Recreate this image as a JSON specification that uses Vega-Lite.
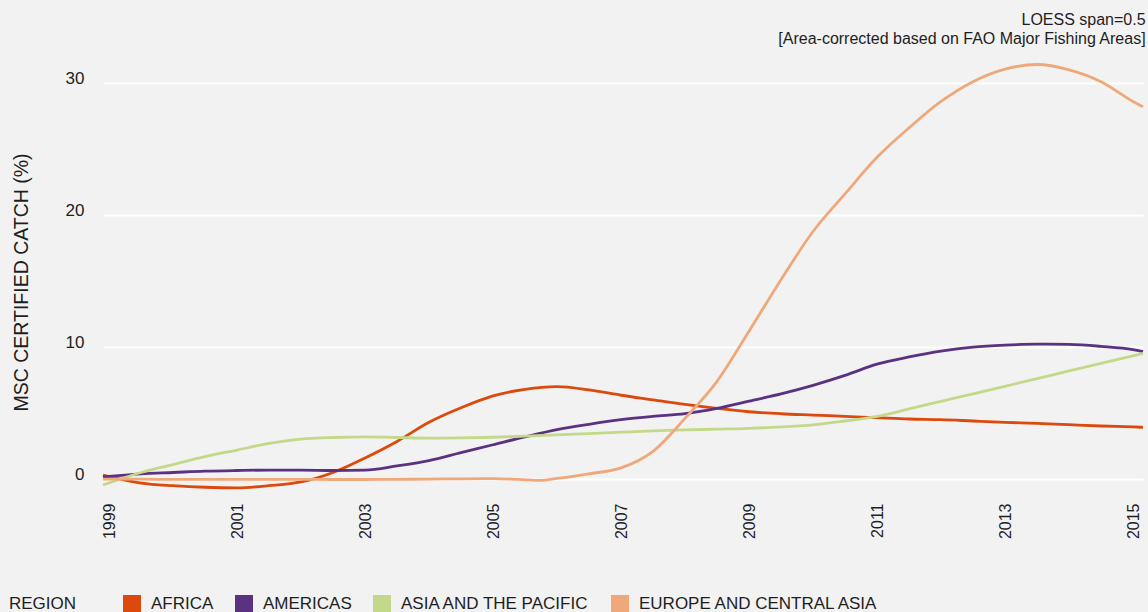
{
  "$schema": "https://vega.github.io/schema/vega-lite/v6.json",
  "width": 1040,
  "height": 437,
  "autosize": "none",
  "padding": {"left": 103, "top": 50, "right": 5, "bottom": 125},
  "background": "#f2f2f2",
  "title": {
    "text": ["LOESS span=0.5", "[Area-corrected based on FAO Major Fishing Areas]"],
    "anchor": "end",
    "fontSize": 16,
    "fontWeight": "normal",
    "font": "Liberation Sans",
    "color": "#1e1e1e",
    "lineHeight": 19,
    "offset": 3,
    "dx": -3
  },
  "config": {
    "view": {"stroke": null, "fill": "#f2f2f2"},
    "font": "Liberation Sans",
    "axis": {"labelColor": "#1e1e1e", "titleColor": "#1e1e1e", "labelFont": "Liberation Sans", "titleFont": "Liberation Sans"},
    "legend": {"labelColor": "#1e1e1e", "titleColor": "#1e1e1e"}
  },
  "data": {
    "values": [
      {"year": 1998.906, "region": "AFRICA", "value": 0.3},
      {"year": 1999.5, "region": "AFRICA", "value": -0.3},
      {"year": 2000.0, "region": "AFRICA", "value": -0.5},
      {"year": 2000.5, "region": "AFRICA", "value": -0.62},
      {"year": 2001.0, "region": "AFRICA", "value": -0.66},
      {"year": 2001.5, "region": "AFRICA", "value": -0.5},
      {"year": 2002.0, "region": "AFRICA", "value": -0.22},
      {"year": 2002.5, "region": "AFRICA", "value": 0.5},
      {"year": 2003.0, "region": "AFRICA", "value": 1.6},
      {"year": 2003.5, "region": "AFRICA", "value": 2.85},
      {"year": 2004.0, "region": "AFRICA", "value": 4.3},
      {"year": 2004.5, "region": "AFRICA", "value": 5.4},
      {"year": 2005.0, "region": "AFRICA", "value": 6.3},
      {"year": 2005.5, "region": "AFRICA", "value": 6.8},
      {"year": 2006.0, "region": "AFRICA", "value": 7.0},
      {"year": 2006.5, "region": "AFRICA", "value": 6.75},
      {"year": 2007.0, "region": "AFRICA", "value": 6.35},
      {"year": 2007.5, "region": "AFRICA", "value": 6.0},
      {"year": 2008.0, "region": "AFRICA", "value": 5.65},
      {"year": 2008.5, "region": "AFRICA", "value": 5.35},
      {"year": 2009.0, "region": "AFRICA", "value": 5.1},
      {"year": 2009.5, "region": "AFRICA", "value": 4.95},
      {"year": 2010.0, "region": "AFRICA", "value": 4.85},
      {"year": 2010.5, "region": "AFRICA", "value": 4.75},
      {"year": 2011.0, "region": "AFRICA", "value": 4.65},
      {"year": 2011.5, "region": "AFRICA", "value": 4.55},
      {"year": 2012.0, "region": "AFRICA", "value": 4.5},
      {"year": 2012.5, "region": "AFRICA", "value": 4.4},
      {"year": 2013.0, "region": "AFRICA", "value": 4.3},
      {"year": 2013.5, "region": "AFRICA", "value": 4.22},
      {"year": 2014.0, "region": "AFRICA", "value": 4.12},
      {"year": 2014.5, "region": "AFRICA", "value": 4.02},
      {"year": 2015.0, "region": "AFRICA", "value": 3.95},
      {"year": 2015.156, "region": "AFRICA", "value": 3.92},

      {"year": 1998.906, "region": "AMERICAS", "value": 0.17},
      {"year": 1999.5, "region": "AMERICAS", "value": 0.4},
      {"year": 2000.0, "region": "AMERICAS", "value": 0.5},
      {"year": 2000.5, "region": "AMERICAS", "value": 0.6},
      {"year": 2001.0, "region": "AMERICAS", "value": 0.65},
      {"year": 2001.5, "region": "AMERICAS", "value": 0.68},
      {"year": 2002.0, "region": "AMERICAS", "value": 0.68},
      {"year": 2002.5, "region": "AMERICAS", "value": 0.65},
      {"year": 2003.0, "region": "AMERICAS", "value": 0.68},
      {"year": 2003.5, "region": "AMERICAS", "value": 1.0},
      {"year": 2004.0, "region": "AMERICAS", "value": 1.4},
      {"year": 2004.5, "region": "AMERICAS", "value": 2.0},
      {"year": 2005.0, "region": "AMERICAS", "value": 2.6},
      {"year": 2005.5, "region": "AMERICAS", "value": 3.2},
      {"year": 2006.0, "region": "AMERICAS", "value": 3.75},
      {"year": 2006.5, "region": "AMERICAS", "value": 4.15},
      {"year": 2007.0, "region": "AMERICAS", "value": 4.5},
      {"year": 2007.5, "region": "AMERICAS", "value": 4.75},
      {"year": 2008.0, "region": "AMERICAS", "value": 4.95},
      {"year": 2008.5, "region": "AMERICAS", "value": 5.35},
      {"year": 2009.0, "region": "AMERICAS", "value": 5.9},
      {"year": 2009.5, "region": "AMERICAS", "value": 6.45},
      {"year": 2010.0, "region": "AMERICAS", "value": 7.1},
      {"year": 2010.5, "region": "AMERICAS", "value": 7.85},
      {"year": 2011.0, "region": "AMERICAS", "value": 8.7},
      {"year": 2011.5, "region": "AMERICAS", "value": 9.25},
      {"year": 2012.0, "region": "AMERICAS", "value": 9.7},
      {"year": 2012.5, "region": "AMERICAS", "value": 10.0},
      {"year": 2013.0, "region": "AMERICAS", "value": 10.15},
      {"year": 2013.5, "region": "AMERICAS", "value": 10.22},
      {"year": 2014.0, "region": "AMERICAS", "value": 10.2},
      {"year": 2014.5, "region": "AMERICAS", "value": 10.05},
      {"year": 2015.0, "region": "AMERICAS", "value": 9.8},
      {"year": 2015.156, "region": "AMERICAS", "value": 9.65},

      {"year": 1998.906, "region": "ASIA AND THE PACIFIC", "value": -0.45},
      {"year": 1999.5, "region": "ASIA AND THE PACIFIC", "value": 0.5},
      {"year": 2000.0, "region": "ASIA AND THE PACIFIC", "value": 1.1},
      {"year": 2000.5, "region": "ASIA AND THE PACIFIC", "value": 1.7},
      {"year": 2001.0, "region": "ASIA AND THE PACIFIC", "value": 2.2},
      {"year": 2001.5, "region": "ASIA AND THE PACIFIC", "value": 2.7},
      {"year": 2002.0, "region": "ASIA AND THE PACIFIC", "value": 3.03},
      {"year": 2002.5, "region": "ASIA AND THE PACIFIC", "value": 3.15},
      {"year": 2003.0, "region": "ASIA AND THE PACIFIC", "value": 3.2},
      {"year": 2003.5, "region": "ASIA AND THE PACIFIC", "value": 3.15},
      {"year": 2004.0, "region": "ASIA AND THE PACIFIC", "value": 3.1},
      {"year": 2004.5, "region": "ASIA AND THE PACIFIC", "value": 3.12},
      {"year": 2005.0, "region": "ASIA AND THE PACIFIC", "value": 3.17},
      {"year": 2005.5, "region": "ASIA AND THE PACIFIC", "value": 3.25},
      {"year": 2006.0, "region": "ASIA AND THE PACIFIC", "value": 3.35},
      {"year": 2006.5, "region": "ASIA AND THE PACIFIC", "value": 3.45},
      {"year": 2007.0, "region": "ASIA AND THE PACIFIC", "value": 3.55},
      {"year": 2007.5, "region": "ASIA AND THE PACIFIC", "value": 3.65},
      {"year": 2008.0, "region": "ASIA AND THE PACIFIC", "value": 3.72},
      {"year": 2008.5, "region": "ASIA AND THE PACIFIC", "value": 3.78},
      {"year": 2009.0, "region": "ASIA AND THE PACIFIC", "value": 3.84},
      {"year": 2009.5, "region": "ASIA AND THE PACIFIC", "value": 3.95},
      {"year": 2010.0, "region": "ASIA AND THE PACIFIC", "value": 4.1},
      {"year": 2010.5, "region": "ASIA AND THE PACIFIC", "value": 4.4},
      {"year": 2011.0, "region": "ASIA AND THE PACIFIC", "value": 4.75},
      {"year": 2011.5, "region": "ASIA AND THE PACIFIC", "value": 5.31},
      {"year": 2012.0, "region": "ASIA AND THE PACIFIC", "value": 5.89},
      {"year": 2012.5, "region": "ASIA AND THE PACIFIC", "value": 6.46},
      {"year": 2013.0, "region": "ASIA AND THE PACIFIC", "value": 7.03},
      {"year": 2013.5, "region": "ASIA AND THE PACIFIC", "value": 7.61},
      {"year": 2014.0, "region": "ASIA AND THE PACIFIC", "value": 8.19},
      {"year": 2014.5, "region": "ASIA AND THE PACIFIC", "value": 8.77},
      {"year": 2015.0, "region": "ASIA AND THE PACIFIC", "value": 9.34},
      {"year": 2015.156, "region": "ASIA AND THE PACIFIC", "value": 9.52},

      {"year": 1998.906, "region": "EUROPE AND CENTRAL ASIA", "value": 0.0},
      {"year": 1999.5, "region": "EUROPE AND CENTRAL ASIA", "value": -0.01},
      {"year": 2000.0, "region": "EUROPE AND CENTRAL ASIA", "value": -0.02},
      {"year": 2000.5, "region": "EUROPE AND CENTRAL ASIA", "value": -0.02},
      {"year": 2001.0, "region": "EUROPE AND CENTRAL ASIA", "value": -0.02},
      {"year": 2001.5, "region": "EUROPE AND CENTRAL ASIA", "value": -0.02},
      {"year": 2002.0, "region": "EUROPE AND CENTRAL ASIA", "value": -0.02},
      {"year": 2002.5, "region": "EUROPE AND CENTRAL ASIA", "value": -0.03},
      {"year": 2003.0, "region": "EUROPE AND CENTRAL ASIA", "value": -0.03},
      {"year": 2003.5, "region": "EUROPE AND CENTRAL ASIA", "value": -0.02},
      {"year": 2004.0, "region": "EUROPE AND CENTRAL ASIA", "value": 0.0},
      {"year": 2004.5, "region": "EUROPE AND CENTRAL ASIA", "value": 0.02},
      {"year": 2005.0, "region": "EUROPE AND CENTRAL ASIA", "value": 0.04},
      {"year": 2005.4, "region": "EUROPE AND CENTRAL ASIA", "value": -0.03},
      {"year": 2005.75, "region": "EUROPE AND CENTRAL ASIA", "value": -0.1},
      {"year": 2006.0, "region": "EUROPE AND CENTRAL ASIA", "value": 0.05},
      {"year": 2006.5, "region": "EUROPE AND CENTRAL ASIA", "value": 0.4},
      {"year": 2007.0, "region": "EUROPE AND CENTRAL ASIA", "value": 0.85},
      {"year": 2007.5, "region": "EUROPE AND CENTRAL ASIA", "value": 2.1},
      {"year": 2008.0, "region": "EUROPE AND CENTRAL ASIA", "value": 4.6},
      {"year": 2008.5, "region": "EUROPE AND CENTRAL ASIA", "value": 7.4},
      {"year": 2009.0, "region": "EUROPE AND CENTRAL ASIA", "value": 11.2},
      {"year": 2009.5, "region": "EUROPE AND CENTRAL ASIA", "value": 15.1},
      {"year": 2010.0, "region": "EUROPE AND CENTRAL ASIA", "value": 18.75},
      {"year": 2010.5, "region": "EUROPE AND CENTRAL ASIA", "value": 21.6},
      {"year": 2011.0, "region": "EUROPE AND CENTRAL ASIA", "value": 24.37},
      {"year": 2011.5, "region": "EUROPE AND CENTRAL ASIA", "value": 26.6},
      {"year": 2012.0, "region": "EUROPE AND CENTRAL ASIA", "value": 28.6},
      {"year": 2012.5, "region": "EUROPE AND CENTRAL ASIA", "value": 30.1},
      {"year": 2013.0, "region": "EUROPE AND CENTRAL ASIA", "value": 31.05},
      {"year": 2013.5, "region": "EUROPE AND CENTRAL ASIA", "value": 31.4},
      {"year": 2014.0, "region": "EUROPE AND CENTRAL ASIA", "value": 31.0},
      {"year": 2014.5, "region": "EUROPE AND CENTRAL ASIA", "value": 30.1},
      {"year": 2015.0, "region": "EUROPE AND CENTRAL ASIA", "value": 28.6},
      {"year": 2015.156, "region": "EUROPE AND CENTRAL ASIA", "value": 28.2}
    ]
  },
  "mark": {"type": "line", "strokeWidth": 2.8, "interpolate": "monotone"},
  "encoding": {
    "x": {
      "field": "year",
      "type": "quantitative",
      "scale": {"domain": [1998.906, 2015.156], "nice": false, "zero": false},
      "axis": {
        "title": null,
        "values": [1999, 2001, 2003, 2005, 2007, 2009, 2011, 2013, 2015],
        "format": "d",
        "labelAngle": 270,
        "labelAlign": "right",
        "labelBaseline": "middle",
        "labelFontSize": 16,
        "labelPadding": 16,
        "ticks": false,
        "tickSize": 0,
        "domain": false,
        "grid": false
      }
    },
    "y": {
      "field": "value",
      "type": "quantitative",
      "scale": {"domain": [-0.6, 32.5], "nice": false, "zero": false},
      "axis": {
        "title": "MSC CERTIFIED CATCH (%)",
        "titleFontSize": 19.5,
        "titleFontWeight": "normal",
        "titleAngle": 270,
        "titleAlign": "center",
        "titleBaseline": "middle",
        "titleX": -82,
        "titleY": 232,
        "values": [0, 10, 20, 30],
        "labelFontSize": 17,
        "labelBaseline": "alphabetic",
        "labelPadding": 19,
        "ticks": false,
        "tickSize": 0,
        "domain": false,
        "grid": true,
        "gridColor": "#ffffff",
        "gridWidth": 2,
        "gridOpacity": 1
      }
    },
    "color": {
      "field": "region",
      "type": "nominal",
      "scale": {
        "domain": ["AFRICA", "AMERICAS", "ASIA AND THE PACIFIC", "EUROPE AND CENTRAL ASIA"],
        "range": ["#db4a0c", "#5b3282", "#c3d888", "#efa87a"]
      },
      "legend": {
        "title": "REGION",
        "orient": "none",
        "legendX": -94,
        "legendY": 545,
        "direction": "horizontal",
        "titleOrient": "left",
        "titlePadding": 46,
        "titleFontSize": 17,
        "titleFontWeight": "normal",
        "titleBaseline": "middle",
        "titleAnchor": "middle",
        "labelFontSize": 17,
        "labelLimit": 0,
        "labelOffset": 10,
        "columnPadding": 21,
        "symbolSize": 324,
        "symbolType": "square",
        "padding": 0,
        "encode": {
          "symbols": {
            "update": {
              "fill": {"scale": "color", "field": "value"},
              "strokeWidth": {"value": 0},
              "shape": {"value": "square"}
            }
          }
        }
      }
    }
  }
}
